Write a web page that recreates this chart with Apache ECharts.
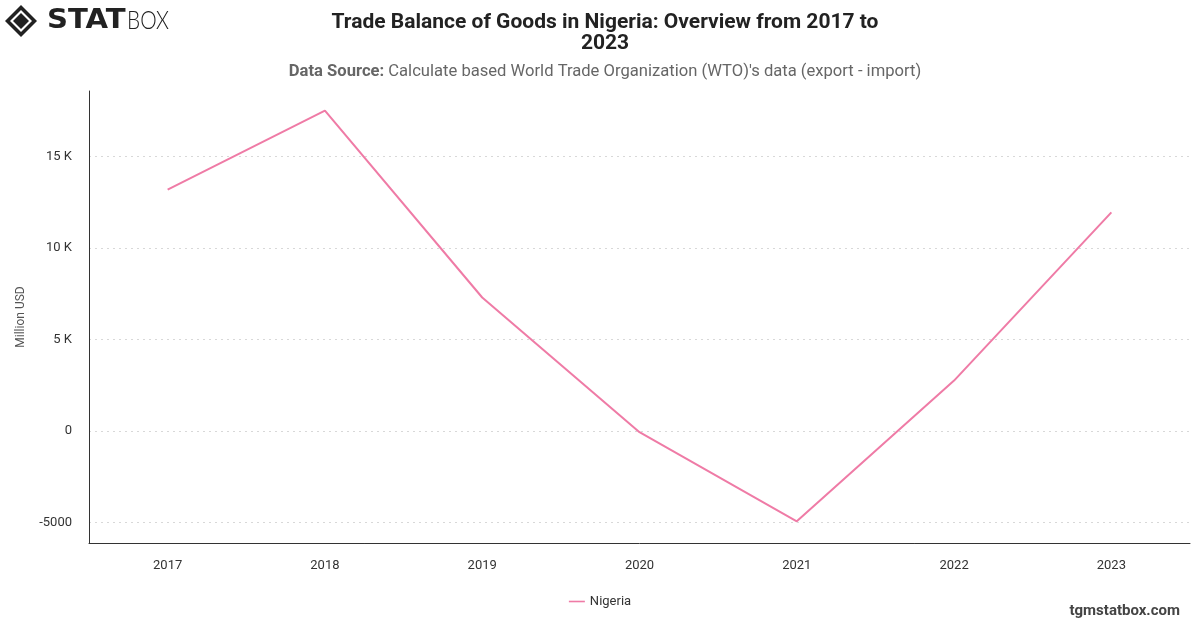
<!DOCTYPE html>
<html>
<head>
<meta charset="utf-8">
<script src="https://cdn.jsdelivr.net/npm/echarts@6/dist/echarts.min.js"></script>
<style>
html,body{margin:0;padding:0;background:#fff;}
#chart{width:1200px;height:628px;}
</style>
</head>
<body>
<div id="chart"></div>
<script>
const years = ['2017', '2018', '2019', '2020', '2021', '2022', '2023'];
const nigeria = [13200, 17520, 7305, -60, -4930, 2760, 11960];
const yTicks = [-5000, 0, 5000, 10000, 15000];

const chart = echarts.init(document.getElementById('chart'));
const FONT = 'Roboto, "Noto Sans", "Liberation Sans", sans-serif';

function fmtY(v) {
  if (v > 0 && v % 1000 === 0) return (v / 1000) + ' K';
  return String(v);
}

chart.setOption({
  backgroundColor: '#ffffff',
  textStyle: { fontFamily: FONT },
  title: [{
    text: 'Trade Balance of Goods in Nigeria: Overview from 2017 to\n2023',
    left: 600, top: 7, textAlign: 'center',
    textStyle: { fontFamily: FONT, fontSize: 21, fontWeight: 'bold', color: '#222', lineHeight: 21 }
  }, {
    text: '{b|Data Source:} Calculate based World Trade Organization (WTO)\'s data (export - import)',
    left: 600, top: 58, textAlign: 'center',
    textStyle: {
      fontFamily: FONT, fontSize: 16.6, fontWeight: 'normal', color: '#666',
      rich: { b: { fontFamily: FONT, fontSize: 16.6, fontWeight: 'bold', color: '#666' } }
    }
  }],
  legend: {
    data: ['Nigeria'],
    bottom: 15, left: 'center',
    icon: 'path://M0,0 L20,0 L20,2 L0,2 Z',
    itemWidth: 16, itemHeight: 2,
    textStyle: { fontFamily: FONT, fontSize: 13, color: '#333' }
  },
  grid: { left: 89, right: 10, top: 91, bottom: 85, containLabel: false },
  xAxis: {
    type: 'category',
    data: years,
    boundaryGap: true,
    axisLine: { show: true, onZero: false, lineStyle: { color: '#333', width: 1 } },
    axisTick: { show: false },
    axisLabel: { fontFamily: FONT, fontSize: 13, color: '#333', margin: 16 },
    splitLine: { show: false }
  },
  yAxis: {
    type: 'value',
    min: -6117, max: 18593,
    name: 'Million USD',
    nameLocation: 'middle',
    nameGap: 62,
    nameTextStyle: { fontFamily: FONT, fontSize: 12, color: '#555' },
    axisLine: { show: true, lineStyle: { color: '#333', width: 1 } },
    axisTick: { show: false, customValues: yTicks },
    axisLabel: { customValues: yTicks, formatter: fmtY, fontFamily: FONT, fontSize: 13, color: '#333', margin: 17 },
    splitLine: { show: true, lineStyle: { type: [2, 4], color: '#d8d8d8', width: 1 } }
  },
  series: [{
    name: 'Nigeria',
    type: 'line',
    data: nigeria,
    symbol: 'none',
    lineStyle: { color: '#ef7ba6', width: 2 },
    itemStyle: { color: '#ef7ba6' },
    animation: false
  }],
  graphic: [
    {
      type: 'group', left: 5, top: 5,
      children: [
        { type: 'polygon', shape: { points: [[16,0],[32,16],[16,32],[0,16]] }, style: { fill: '#222' } },
        { type: 'polygon', shape: { points: [[16,5],[27,16],[16,27],[5,16]] }, style: { fill: '#fff' } },
        { type: 'polygon', shape: { points: [[16,8],[24,16],[16,24],[8,16]] }, style: { fill: '#222' } },
        { type: 'text', x: 42, y: 3, scaleX: 1.12, style: { text: 'STAT', font: '900 26px "DejaVu Sans", sans-serif', fill: '#222' } },
        { type: 'text', x: 122, y: 3, scaleX: 0.8, style: { text: 'BOX', font: '300 26px Lato, "Open Sans", sans-serif', fill: '#222' } }
      ]
    },
    {
      type: 'text', right: 20, top: 604,
      style: { text: 'tgmstatbox.com', font: 'bold 15px ' + FONT, fill: '#444' }
    }
  ]
});
</script>
</body>
</html>
